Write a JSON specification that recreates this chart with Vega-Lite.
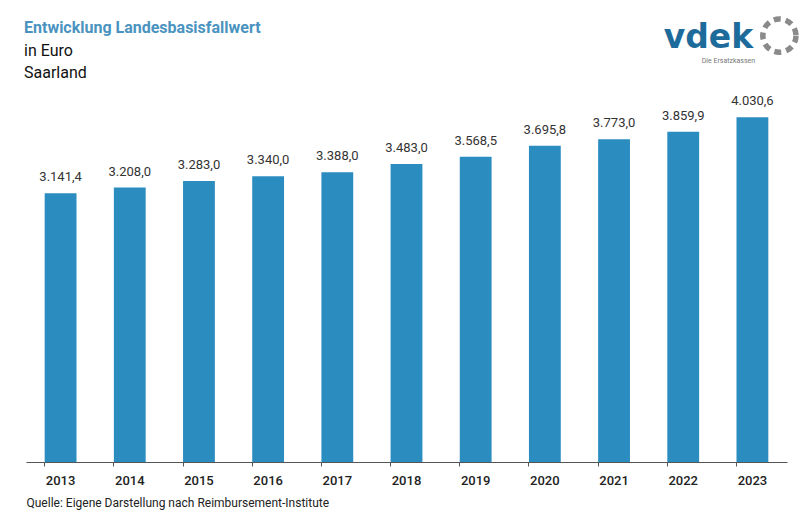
{
  "$schema": "https://vega.github.io/schema/vega-lite/v6.json",
  "width": 761,
  "height": 385,
  "autosize": {"type": "none"},
  "padding": {"left": 26, "top": 77, "right": 16, "bottom": 52},
  "background": "white",
  "config": {
    "view": {"stroke": null},
    "font": "Roboto",
    "locale": {"number": {"decimal": ",", "thousands": ".", "grouping": [3], "currency": ["", " €"]}}
  },
  "title": {
    "text": "Entwicklung Landesbasisfallwert",
    "subtitle": ["in Euro", "Saarland"],
    "anchor": "start",
    "frame": "group",
    "offset": -73,
    "dx": -2,
    "color": "#4a93c0",
    "fontSize": 16,
    "fontWeight": "bold",
    "subtitleColor": "#111111",
    "subtitleFontSize": 16,
    "subtitleLineHeight": 22,
    "subtitlePadding": 7,
    "font": "Roboto",
    "subtitleFont": "Roboto"
  },
  "datasets": {
    "werte": [
      {"Jahr": "2013", "Wert": 3141.4},
      {"Jahr": "2014", "Wert": 3208.0},
      {"Jahr": "2015", "Wert": 3283.0},
      {"Jahr": "2016", "Wert": 3340.0},
      {"Jahr": "2017", "Wert": 3388.0},
      {"Jahr": "2018", "Wert": 3483.0},
      {"Jahr": "2019", "Wert": 3568.5},
      {"Jahr": "2020", "Wert": 3695.8},
      {"Jahr": "2021", "Wert": 3773.0},
      {"Jahr": "2022", "Wert": 3859.9},
      {"Jahr": "2023", "Wert": 4030.6}
    ],
    "logo": [
      {"Jahr": "2023", "Wert": 4960, "text": "vdek", "size": "big"},
      {"Jahr": "2023", "Wert": 4690, "text": "Die Ersatzkassen", "size": "small"}
    ]
  },
  "layer": [
    {
      "data": {"name": "werte"},
      "mark": {"type": "bar", "color": "#2b8cc0"},
      "encoding": {
        "x": {
          "field": "Jahr",
          "type": "ordinal",
          "scale": {"paddingInner": 0.54, "paddingOuter": 0.27},
          "axis": {
            "title": "Quelle: Eigene Darstellung nach Reimbursement-Institute",
            "titleAnchor": "start",
            "titleAlign": "left",
            "titleFontSize": 12,
            "titleFontWeight": "normal",
            "titleColor": "#222222",
            "titlePadding": 10,
            "labelAngle": 0,
            "labelFontSize": 13,
            "labelFontWeight": 500,
            "labelColor": "#222222",
            "labelPadding": 8,
            "domainColor": "#555555",
            "tickColor": "#555555",
            "tickSize": 4,
            "bandPosition": 0
          }
        },
        "y": {
          "field": "Wert",
          "type": "quantitative",
          "scale": {"domain": [0, 4500]},
          "axis": null
        }
      }
    },
    {
      "data": {"name": "werte"},
      "mark": {"type": "text", "dy": -9, "fontSize": 13, "color": "#333333", "baseline": "bottom"},
      "encoding": {
        "x": {"field": "Jahr", "type": "ordinal"},
        "y": {"field": "Wert", "type": "quantitative"},
        "text": {"field": "Wert", "type": "quantitative", "format": ",.1f"}
      }
    },
    {
      "data": {"name": "logo"},
      "transform": [{"filter": "datum.size == 'big'"}],
      "mark": {"type": "text", "fontSize": 33, "fontWeight": "bold", "color": "#1d6b9a", "align": "center", "baseline": "middle", "dx": -44, "font": "DejaVu Sans"},
      "encoding": {
        "x": {"field": "Jahr", "type": "ordinal"},
        "y": {"field": "Wert", "type": "quantitative"},
        "text": {"field": "text", "type": "nominal"}
      }
    },
    {
      "data": {"name": "logo"},
      "transform": [{"filter": "datum.size == 'big'"}],
      "mark": {"type": "point", "shape": "circle", "filled": false, "size": 1100, "stroke": "#8a8a8a", "strokeWidth": 5.5, "strokeDash": [7, 5], "opacity": 1, "xOffset": 27, "yOffset": -2},
      "encoding": {
        "x": {"field": "Jahr", "type": "ordinal"},
        "y": {"field": "Wert", "type": "quantitative"}
      }
    },
    {
      "data": {"name": "logo"},
      "transform": [{"filter": "datum.size == 'small'"}],
      "mark": {"type": "text", "fontSize": 7, "color": "#777777", "align": "center", "baseline": "middle", "dx": -24},
      "encoding": {
        "x": {"field": "Jahr", "type": "ordinal"},
        "y": {"field": "Wert", "type": "quantitative"},
        "text": {"field": "text", "type": "nominal"}
      }
    }
  ]
}
